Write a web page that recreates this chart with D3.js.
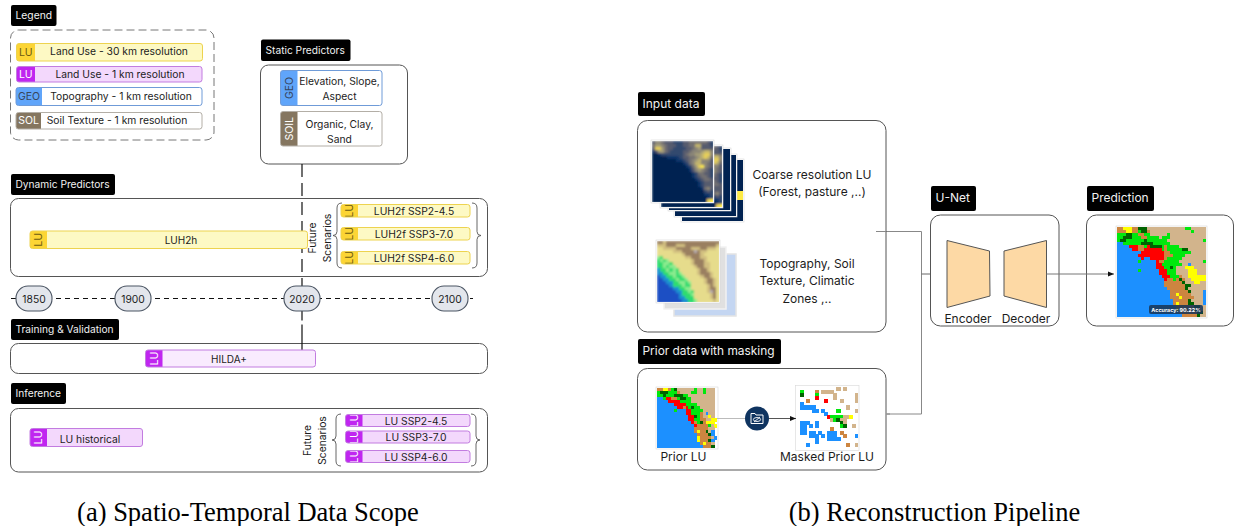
<!DOCTYPE html>
<html>
<head>
<meta charset="utf-8">
<script src="https://cdn.jsdelivr.net/npm/d3@7"></script>
<style>
	html, body { margin: 0; padding: 0; background: #fff; }
	svg { display: block; }
	text { font-family: Inter, "Noto Sans", sans-serif; fill: #1c1c1c; }
</style>
</head>
<body>
<div id="chart"></div>
<script>
// Labels
var legendLabels = ['Land Use - 30 km resolution', 'Land Use - 1 km resolution', 'Topography - 1 km resolution', 'Soil Texture - 1 km resolution'];
var legendTags = ['LU', 'LU', 'GEO', 'SOL'];
var staticLabels = [['Elevation, Slope,', 'Aspect'], ['Organic, Clay,', 'Sand']];
var staticTags = ['GEO', 'SOIL'];
var futureLabels = ['LUH2f SSP2-4.5', 'LUH2f SSP3-7.0', 'LUH2f SSP4-6.0'];
var inferenceLabels = ['LU SSP2-4.5', 'LU SSP3-7.0', 'LU SSP4-6.0'];
var timelineYears = [1850, 1900, 2020, 2100];
var coarseText = ['Coarse resolution LU', '(Forest, pasture ,..)'];
var topoText = ['Topography, Soil', 'Texture, Climatic', 'Zones ,..'];

// Rasters, one char per cell.
// b water, t tan, g green, d dark green, r red, y yellow, o brown
var predictionRows = [
	'ooyyyoodddtttttttttttttggttttt',
	'oooyyoogddottttttttttttttgtttt',
	'gggddggooggttttttgtttttttttttt',
	'ggdddgggooggggtgggtttttttttttt',
	'gddggggggdgggggggttttttttttttg',
	'bbggggggddddggggggtttttttttttt',
	'bbbbrrroogrddddgoggggttttttttt',
	'bbbbbrroorrrrrrgogggggddtttttt',
	'bbbbbbbbrrrrrrrroogggggggttttt',
	'bbbbbbbrrrrrrrrroooggggttttttt',
	'bbbbbbbbrbbrrrrrogggggtttttttt',
	'bbbbbbbgbbbbbroogggggttttttttg',
	'bbbbbbbbbbbbbrrgggggggttbttttt',
	'bbbbbbbbbbbbbrrrggdgtttyyytttt',
	'bbbbbbbgbbbbbbrrrgggttttyyyttt',
	'bbbbbbbbbbbbbbrrrgggttttyyyttt',
	'bbbbbbbbbbbbbbbrrrgggottyyyyyy',
	'bbbbbbbbbbbbbbbbroogodottyyyyy',
	'bbbbbbbbbbbbbbbboooooodtttyytt',
	'bbbbbbbbbbbbbbbboooooooddttttt',
	'bbbbbbbbbbbbbbbbboooooodtttttt',
	'bbbbbbbbbbbbbbbbbboooooodttttb',
	'bbbbbbbbbbbbbbbbbbooyoooottttb',
	'bbbbbbbbbbbbbbbbbboooyooootttb',
	'bbbbbbbbbbbbbbbbbbbooooodttttb',
	'bbbbbbbbbbbbbbbbbbboyoooddtttb',
	'bbbbbbbbbbbbbbbbbbbbooooooddtt',
	'bbbbbbbbbbbbbbbbbbbbyooooodttt',
	'bbbbbbbbbbbbbbbbbbbbbooooooddt',
	'bbbbbbbbbbbbbbbbbbbbbbooooodtt',
];
var priorRows = [
	'ooyyogdttttttgttgttt',
	'gdddgggottttggttgttt',
	'ggdgggdddggttttttttt',
	'bbgrroogddggtttttttt',
	'bbbbrrrrggggtttttttt',
	'bbbbbbrrrrggggtttttt',
	'bbbbbbbrrorgdggttttt',
	'bbbbbbgbbbrrggggtttt',
	'bbbbbbbbbbrrgggotbtt',
	'bbbbbbbbbbbrrdgottyt',
	'bbbbbbbbbbbrrggoottyy',
	'bbbbbbbbbbbbrogdoyyy',
	'bbbbbbbbbbbbbroooogty',
	'bbbbbbbbbbbbbooooott',
	'bbbbbbbbbbbbboyoodtb',
	'bbbbbbbbbbbbbboooodb',
	'bbbbbbbbbbbbbbyooootb',
	'bbbbbbbbbbbbbbyooodb',
	'bbbbbbbbbbbbbbboyoot',
	'bbbbbbbbbbbbbbbboood',
];
var maskedRows = [
	'.............t.t....',
	'.g....o.tttt........',
	'.d....g.....t......t',
	'......r.....t......t',
	'...o.....r....t....t',
	'.b..................',
	'.bbbbb..........t...',
	'.....bb.b....g.....t',
	'.........b..........',
	'..........rggggtty..',
	'...........tgdtt....',
	'.bbb..b.......dt....',
	'.bb.b.b.......gd..t.',
	'.bb........o........',
	'.bb.bb.b..bbb.o.....',
	'....bbb.b.bbb..o...b',
	'......b...bbbb......',
	'......b.............',
	'...b............o..t',
	'....................',
];
// digits are levels on the navy to yellow ramp
var coarseRows = [
	'35543332223344444432',
	'46654333223344773332',
	'38864332222334563333',
	'13664322223345556775',
	'00122222223455667885',
	'00000111123344567874',
	'00000000112345675553',
	'00000000001245775543',
	'00000000000124689543',
	'00000000000013565432',
	'00000000000001244332',
	'00000000000001234432',
	'00000000000000123443',
	'00000000000000012333',
	'00000000000000012333',
	'00000000000000001453',
	'00000000000000000232',
	'00000000000000000112',
	'00000000000000000012',
	'00000000000000000089',
];
var coarseLastRows = [
	'00000000000000000000',
	'00000000000000000000',
	'00000000000000000000',
	'00000000000000000000',
	'00000000000000000000',
	'00000000000000000000',
	'00000000000000000000',
	'00000000000000000000',
	'00000000000000000000',
	'00000000000000000000',
	'00000000000000000099',
	'00000000000000000899',
	'00000000000000000099',
	'00000000000000000000',
	'00000000000000000000',
	'00000000000000000000',
	'00000000000000000000',
	'00000000000000000000',
	'00000000000000000000',
	'00000000000000000000',
];
// a deep water, c shallow, m green, l light green, y pale yellow, k khaki, n brown, w bare peak
var topoRows = [
	'nnknnnnnnnnnnnnnnnnn',
	'kkknnnkkknnnnnnnnnnk',
	'yykkkknnnnnkkknnkkky',
	'yyyyykkknnnnwnkkyyyy',
	'yyyyyyyyknnnnnkyyyyy',
	'lmyyyyyyykknnnkkyyyy',
	'mlmlyyyyyyyknnnkyyyy',
	'mmllmyyyyyyknnnkkyyy',
	'mmlmllyyyyyyknnkkyyy',
	'cmmlmlmyyyyyyknnkyyy',
	'ccmmllmlyyyyyknnnkyy',
	'accmmlmmlyyyyyknnkyy',
	'aaccmmlmmlyyyyyknnky',
	'aaaccmmllmlyyyyknnky',
	'aaaacmmmlmmyyyyyknky',
	'aaaaaccmmllyyyyyknny',
	'aaaaaaccmmlmyyyykwny',
	'aaaaaaacmmmlyyyyykny',
	'aaaaaaaccmmmyyyyykny',
	'aaaaaaaaccmmlyyyyyky',
];

var landColors = { b: '#1e90ff', t: '#d2b48c', g: '#00e810', d: '#006400', r: '#ff0000', y: '#ffff00', o: '#cd853f' };
var topoColors = { a: '#1f4fc4', c: '#1c8fd0', m: '#2fdc70', l: '#8cec90', y: '#e6dc8c', k: '#d2bf80', n: '#9a7f60', w: '#b5acae' };
var coarseColor = d3.scaleSequential(d3.interpolateCividis).domain([0, 9]);

var width = 1236;
var height = 526;
var colors = {
	'yellow': { swatch: '#fcd535', fill: '#fdf9c4', stroke: '#edd34f', text: '#6b5a12' },
	'violet': { swatch: '#c026f0', fill: '#f3d8fc', stroke: '#c27ce0', text: '#ffffff' },
	'violetPale': { swatch: '#c026f0', fill: '#f9ebfe', stroke: '#c27ce0', text: '#ffffff' },
	'blue': { swatch: '#60a5fa', fill: '#ffffff', stroke: '#6f9bd8', text: '#37465c' },
	'soil': { swatch: '#857660', fill: '#ffffff', stroke: '#b3aea6', text: '#ffffff' },
};

var svg = d3.select('#chart').append('svg')
	.attr('width', width)
	.attr('height', height);
var defs = svg.append('defs');

[0.4, 0.8, 1.1].forEach(function(blur, i) {
	defs.append('filter').attr('id', 'soft' + i)
		.append('feGaussianBlur').attr('stdDeviation', blur);
});
defs.append('marker')
	.attr('id', 'arrow')
	.attr('viewBox', '0 0 6 6')
	.attr('refX', 6).attr('refY', 3)
	.attr('markerWidth', 6).attr('markerHeight', 6)
	.attr('markerUnits', 'userSpaceOnUse')
	.attr('orient', 'auto')
	.append('path').attr('d', 'M0,0.6L6,3L0,5.4Z').attr('fill', '#111');

var chipCount = 0;
var rasterCount = 0;

function panel(x, y, w, h, r, dashed) {
	svg.append('rect')
		.attr('x', x).attr('y', y)
		.attr('width', w).attr('height', h)
		.attr('rx', r)
		.attr('fill', '#fff')
		.attr('stroke', dashed ? '#777' : '#555')
		.attr('stroke-width', 1)
		.attr('stroke-dasharray', dashed ? '8 4' : null);
}

function tag(x, y, w, h, label, size) {
	svg.append('rect')
		.attr('x', x).attr('y', y)
		.attr('width', w).attr('height', h)
		.attr('rx', 2)
		.attr('fill', '#000');
	svg.append('text')
		.attr('x', x + 4.5).attr('y', y + h / 2 + 0.5)
		.attr('dominant-baseline', 'middle')
		.attr('font-size', size)
		.style('fill', '#f2f2f2')
		.text(label);
}

// chip: coloured swatch on the left and a label
function chip(x, y, w, h, swatchW, style, tagLabel, lines, opts) {
	opts = opts || {};
	var c = colors[style];
	var id = 'chip' + (chipCount++);
	defs.append('clipPath').attr('id', id)
		.append('rect').attr('x', x).attr('y', y).attr('width', w).attr('height', h).attr('rx', 2.5);
	var g = svg.append('g');
	g.append('rect')
		.attr('x', x).attr('y', y).attr('width', w).attr('height', h).attr('rx', 2.5)
		.attr('fill', c.fill);
	var inner = g.append('g').attr('clip-path', 'url(#' + id + ')');
	inner.append('rect')
		.attr('x', x).attr('y', y).attr('width', swatchW).attr('height', h)
		.attr('fill', c.swatch);
	var sx = x + swatchW / 2;
	var sy = y + h / 2;
	inner.append('text')
		.attr('transform', 'translate(' + sx + ',' + sy + ')' + (opts.rotate ? ' rotate(-90)' : ''))
		.attr('text-anchor', 'middle')
		.attr('dominant-baseline', 'central')
		.attr('font-size', opts.tagSize || 10.5)
		.style('fill', c.text)
		.text(tagLabel);
	g.append('rect')
		.attr('x', x).attr('y', y).attr('width', w).attr('height', h).attr('rx', 2.5)
		.attr('fill', 'none')
		.attr('stroke', c.stroke)
		.attr('stroke-width', 1);
	var cx = opts.textX;
	var lineH = opts.lineH || 15;
	g.selectAll('text.label').data(lines).join('text')
		.attr('class', 'label')
		.attr('x', cx)
		.attr('y', function(d, i) { return sy + (opts.textDy || 0) + (i - (lines.length - 1) / 2) * lineH; })
		.attr('text-anchor', 'middle')
		.attr('dominant-baseline', 'central')
		.attr('font-size', opts.size || 10)
		.text(function(d) { return d; });
}

function brace(x, y0, y1, dir) {
	var mid = (y0 + y1) / 2;
	var d = 5 * dir;
	var p = d3.path();
	p.moveTo(x + d, y0);
	p.quadraticCurveTo(x, y0, x, y0 + 5);
	p.lineTo(x, mid - 4);
	p.quadraticCurveTo(x, mid, x - d * 0.8, mid);
	p.quadraticCurveTo(x, mid, x, mid + 4);
	p.lineTo(x, y1 - 5);
	p.quadraticCurveTo(x, y1, x + d, y1);
	svg.append('path').attr('d', p.toString())
		.attr('fill', 'none').attr('stroke', '#555').attr('stroke-width', 0.9);
}

function verticalText(x, y, lines, size) {
	svg.selectAll(null).data(lines).join('text')
		.attr('transform', function(d, i) { return 'translate(' + (x + i * 15) + ',' + y + ') rotate(-90)'; })
		.attr('text-anchor', 'middle')
		.attr('dominant-baseline', 'central')
		.attr('font-size', size)
		.text(function(d) { return d; });
}

function textBlock(cx, y, lines, lineH, size) {
	svg.selectAll(null).data(lines).join('text')
		.attr('x', cx)
		.attr('y', function(d, i) { return y + i * lineH; })
		.attr('text-anchor', 'middle')
		.attr('dominant-baseline', 'central')
		.attr('font-size', size)
		.text(function(d) { return d; });
}

// draws a raster from its rows through band scales, white frame round it
function raster(x, y, w, h, rows, colorOf, softness) {
	var nCols = d3.max(rows, function(row) { return row.length; });
	var scaleX = d3.scaleBand().domain(d3.range(nCols)).range([x, x + w]);
	var scaleY = d3.scaleBand().domain(d3.range(rows.length)).range([y, y + h]);
	var id = 'raster' + (rasterCount++);
	defs.append('clipPath').attr('id', id)
		.append('rect').attr('x', x).attr('y', y).attr('width', w).attr('height', h);
	svg.append('rect')
		.attr('x', x - 1).attr('y', y - 1)
		.attr('width', w + 2).attr('height', h + 2)
		.attr('fill', '#fff')
		.attr('stroke', '#d8d8d8')
		.attr('stroke-width', 0.6);
	var cells = [];
	rows.forEach(function(row, r) {
		row.split('').forEach(function(ch, c) {
			if (ch !== '.') cells.push({ r: r, c: c, ch: ch });
		});
	});
	svg.append('g')
		.attr('clip-path', 'url(#' + id + ')')
		.append('g')
		.attr('filter', 'url(#soft' + softness + ')')
		.attr('shape-rendering', 'crispEdges')
		.selectAll('rect').data(cells).join('rect')
		.attr('x', function(d) { return scaleX(d.c); })
		.attr('y', function(d) { return scaleY(d.r); })
		.attr('width', scaleX.bandwidth() + 1)
		.attr('height', scaleY.bandwidth() + 1)
		.attr('fill', function(d) { return colorOf(d.ch); });
}

function connector(points, color, withArrow) {
	svg.append('path')
		.attr('d', d3.line()(points))
		.attr('fill', 'none')
		.attr('stroke', color)
		.attr('stroke-width', 1)
		.attr('marker-end', withArrow ? 'url(#arrow)' : null);
}

/* ---------- (a) Spatio-Temporal Data Scope ---------- */

// Legend
tag(11, 5, 45.5, 21, 'Legend', 10.3);
panel(10.5, 30, 203.5, 110, 8, true);
var legendStyles = ['yellow', 'violet', 'blue', 'soil'];
var legendBoxes = [[16.5, 43.5, 186, 17.5, 18.5, 119, -1.5], [16.5, 66.5, 185.5, 15.5, 18.5, 120, -0.5], [16, 87.5, 186, 18, 26, 121, -0.5], [16, 112.5, 186, 16.5, 25, 117, -0.5]];
legendLabels.forEach(function(label, i) {
	var b = legendBoxes[i];
	chip(b[0], b[1], b[2], b[3], b[4], legendStyles[i], legendTags[i], [label], { textX: b[5], textDy: b[6], size: 10.3 });
});

// Static predictors
tag(261, 39.5, 89.5, 21.5, 'Static Predictors', 10.2);
panel(260.5, 65, 147, 99, 8);
chip(280.5, 70.5, 101.5, 35, 17, 'blue', staticTags[0], staticLabels[0], { textX: 339.5, rotate: true, size: 10.3 });
chip(280.5, 111.5, 101.5, 34.5, 17, 'soil', staticTags[1], staticLabels[1], { textX: 339.5, rotate: true, size: 10.3, textDy: 2.5, lineH: 14.5 });

// Dynamic predictors
tag(11, 174, 104, 21, 'Dynamic Predictors', 10.2);
panel(10.5, 198.5, 477, 78, 8);

// Training & inference panels go under the line to 2020
tag(11, 319, 108, 21, 'Training & Validation', 10.2);
panel(10.5, 343.5, 477, 30, 8);
tag(11, 383, 55, 21, 'Inference', 10.2);
panel(10.5, 408.5, 477, 63.5, 8);

// timeline, the years are not evenly spaced on the page
var scaleYear = d3.scaleLinear().domain(timelineYears).range([34, 133, 302, 450]);
var timelineY = 298.5;

svg.append('line')
	.attr('x1', scaleYear(2020)).attr('x2', scaleYear(2020))
	.attr('y1', 164).attr('y2', timelineY)
	.attr('stroke', '#111').attr('stroke-width', 1.2)
	.attr('stroke-dasharray', '13 6');
svg.append('line')
	.attr('x1', scaleYear(2020)).attr('x2', scaleYear(2020))
	.attr('y1', timelineY).attr('y2', 350)
	.attr('stroke', '#111').attr('stroke-width', 1.2)
	.attr('stroke-dasharray', '22 4 100 0');

svg.append('line')
	.attr('x1', 11).attr('x2', 473)
	.attr('y1', timelineY).attr('y2', timelineY)
	.attr('stroke', '#111').attr('stroke-width', 1.2)
	.attr('stroke-dasharray', '5 4');

var pills = svg.selectAll('g.pill').data(timelineYears).join('g')
	.attr('class', 'pill')
	.attr('transform', function(d) { return 'translate(' + scaleYear(d) + ',' + timelineY + ')'; });
pills.append('rect')
	.attr('x', -18).attr('y', -12.5)
	.attr('width', 36).attr('height', 25)
	.attr('rx', 12)
	.attr('fill', '#e3e6ec')
	.attr('stroke', '#4b5563')
	.attr('stroke-width', 1.1);
pills.append('text')
	.attr('text-anchor', 'middle')
	.attr('dominant-baseline', 'central')
	.attr('font-size', 10.3)
	.text(function(d) { return d; });

// dynamic chips
chip(30, 231, 277.5, 17.5, 17, 'yellow', 'LU', ['LUH2h'], { textX: 181, rotate: true });
verticalText(312, 238, ['Future', 'Scenarios'], 10.3);
brace(337, 203, 268, 1);
brace(477, 203, 268, -1);
var futureY = [204.5, 227.5, 251.5];
futureLabels.forEach(function(label, i) {
	chip(341, futureY[i], 129, 12.5, 17, 'yellow', 'LU', [label], { textX: 414, rotate: true, size: 10.3, textDy: 0.5 });
});

chip(145.5, 350, 170, 17, 17, 'violetPale', 'LU', ['HILDA+'], { textX: 229, rotate: true });

chip(30, 428.5, 112.5, 18, 17, 'violet', 'LU', ['LU historical'], { textX: 90, rotate: true, textDy: 1, size: 10.3 });
verticalText(307, 440.5, ['Future', 'Scenarios'], 10.3);
brace(336, 414, 466, 1);
brace(476, 414, 466, -1);
var inferenceY = [414.5, 431, 450.5];
inferenceLabels.forEach(function(label, i) {
	chip(345.5, inferenceY[i], 124.5, 12, 17, 'violet', 'LU', [label], { textX: 416, rotate: true, size: 10.3 });
});

/* ---------- (b) Reconstruction Pipeline ---------- */

// connectors first, so the panels sit over them
connector([[876, 231.5], [921.5, 231.5], [921.5, 414], [887, 414]], '#888');
connector([[921.5, 274], [946, 274]], '#666', true);

tag(638, 92, 67, 24, 'Input data', 12);
panel(637.5, 120.5, 248.5, 211.5, 10);
connector([[876, 231.5], [886, 231.5]], '#888');

// coarse LU stack, back to front
var navyRows = coarseLastRows.map(function(row) { return row.replace(/[1-9]/g, '0'); });
raster(682, 160, 61, 61, coarseLastRows, coarseColor, 0);
raster(675, 155, 61, 61, navyRows, coarseColor, 0);
raster(669, 149, 61, 61, navyRows, coarseColor, 0);
raster(661, 146, 61, 61, coarseRows, coarseColor, 2);
raster(652, 141, 61, 61, coarseRows, coarseColor, 2);
textBlock(812, 174, coarseText, 17, 12);

// topography stack
svg.append('rect').attr('x', 674).attr('y', 254).attr('width', 62).attr('height', 62)
	.attr('fill', '#c4d6f2').attr('stroke', '#e4e4e4').attr('stroke-width', 1.5);
svg.append('rect').attr('x', 664).attr('y', 247).attr('width', 62).attr('height', 62)
	.attr('fill', '#e0e0e0').attr('stroke', '#f2f2f2').attr('stroke-width', 1.5);
raster(657, 241, 62, 61, topoRows, function(ch) { return topoColors[ch]; }, 1);
textBlock(807, 263, topoText, 17.5, 12);

// prior data
tag(638, 339, 143, 25, 'Prior data with masking', 11.9);
panel(637.5, 368.5, 248.5, 101.5, 10);
connector([[886, 414], [890, 414]], '#888');
raster(657, 388, 60, 60, priorRows, function(ch) { return landColors[ch]; }, 0);
raster(796.5, 386.5, 61.5, 63, maskedRows, function(ch) { return landColors[ch]; }, 0);
connector([[717, 418.5], [746, 418.5]], '#bbb');
connector([[768, 418.5], [796, 418.5]], '#555', true);
textBlock(683.5, 456.5, ['Prior LU'], 0, 12);
textBlock(827, 456.5, ['Masked Prior LU'], 0, 12);

// masking icon: folder with a crossed eye
var icon = svg.append('g').attr('transform', 'translate(757,418.5)');
icon.append('circle').attr('r', 12).attr('fill', '#0f3460');
icon.append('path')
	.attr('d', 'M-6,-5L-2,-5L-1,-3.5L6,-3.5L6,5L-6,5Z')
	.attr('fill', 'none').attr('stroke', '#fff').attr('stroke-width', 1);
icon.append('ellipse').attr('cx', 0).attr('cy', 1).attr('rx', 3.6).attr('ry', 2)
	.attr('fill', 'none').attr('stroke', '#fff').attr('stroke-width', 0.9);
icon.append('line').attr('x1', -3).attr('y1', 3.5).attr('x2', 3).attr('y2', -1.5)
	.attr('stroke', '#fff').attr('stroke-width', 0.9);

// U-Net
tag(931, 186, 45, 25, 'U-Net', 12);
panel(930.5, 215, 128.5, 111, 10);
var trapezoid = d3.line().curve(d3.curveLinearClosed);
svg.append('path')
	.attr('d', trapezoid([[947, 240.5], [989.5, 251], [990, 296], [947, 307.5]]))
	.attr('fill', '#fdd9a5').attr('stroke', '#555').attr('stroke-width', 1).attr('stroke-linejoin', 'round');
svg.append('path')
	.attr('d', trapezoid([[1046.5, 240.5], [1004, 251], [1004, 296], [1046.5, 307.5]]))
	.attr('fill', '#fdd9a5').attr('stroke', '#555').attr('stroke-width', 1).attr('stroke-linejoin', 'round');
textBlock(968, 318, ['Encoder'], 0, 12);
textBlock(1026, 318, ['Decoder'], 0, 12);

// Prediction
tag(1087, 186, 67, 25, 'Prediction', 12);
panel(1086.5, 215, 147, 111, 10);
connector([[1046.5, 274], [1114, 274]], '#777', true);
raster(1117, 227, 89, 90, predictionRows, function(ch) { return landColors[ch]; }, 0);
svg.append('rect')
	.attr('x', 1149).attr('y', 305).attr('width', 54).attr('height', 9).attr('rx', 2)
	.attr('fill', '#1a3557').attr('fill-opacity', 0.88);
svg.append('text')
	.attr('x', 1176).attr('y', 309.7)
	.attr('text-anchor', 'middle')
	.attr('dominant-baseline', 'central')
	.attr('font-size', 5.4)
	.attr('font-weight', 700)
	.style('fill', '#fff')
	.text('Accuracy: 90.22%');

// captions
var captions = [['(a) Spatio-Temporal Data Scope', 248], ['(b) Reconstruction Pipeline', 934.5]];
svg.selectAll('text.caption').data(captions).join('text')
	.attr('class', 'caption')
	.attr('x', function(d) { return d[1]; })
	.attr('y', 521)
	.attr('text-anchor', 'middle')
	.attr('font-size', 26.5)
	.style('font-family', '"Liberation Serif", serif')
	.style('fill', '#000')
	.text(function(d) { return d[0]; });
</script>
</body>
</html>
